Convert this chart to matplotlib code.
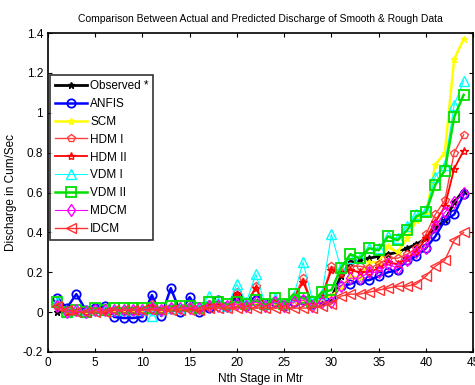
import numpy as np
import matplotlib
matplotlib.use("Agg")
import matplotlib.pyplot as plt

plt.rcParams['font.family'] = ['Liberation Sans Narrow', 'Liberation Sans', 'DejaVu Sans']

stage = np.arange(1, 45)

observed = [0.0, 0.0, 0.01, 0.0, 0.01, 0.01, 0.01, 0.01, 0.01, 0.01, 0.02, 0.01, 0.03, 0.02, 0.02,
            0.02, 0.03, 0.03, 0.03, 0.04, 0.04, 0.05, 0.04, 0.05, 0.05, 0.06, 0.06, 0.05, 0.06, 0.07,
            0.18, 0.25, 0.26, 0.27, 0.28, 0.29, 0.30, 0.32, 0.34, 0.37, 0.42, 0.46, 0.55, 0.61]
anfis = [0.07, 0.02, 0.09, 0.01, 0.02, 0.03, -0.025, -0.03, -0.03, -0.025, 0.085, -0.02, 0.12, 0.0, 0.075,
         0.0, 0.02, 0.06, 0.03, 0.08, 0.03, 0.06, 0.04, 0.05, 0.03, 0.05, 0.06, 0.04, 0.06, 0.07,
         0.13, 0.14, 0.16, 0.16, 0.18, 0.20, 0.21, 0.26, 0.28, 0.32, 0.38, 0.46, 0.49, 0.59]
scm = [0.04, 0.0, 0.01, 0.0, 0.01, 0.01, 0.01, 0.01, 0.01, 0.01, 0.02, 0.01, 0.02, 0.02, 0.02,
       0.02, 0.03, 0.03, 0.03, 0.04, 0.03, 0.04, 0.03, 0.05, 0.04, 0.06, 0.06, 0.04, 0.07, 0.08,
       0.12, 0.18, 0.17, 0.25, 0.25, 0.33, 0.30, 0.37, 0.46, 0.49, 0.74, 0.80, 1.27, 1.37]
hdm1 = [0.04, 0.0, 0.01, 0.0, 0.01, 0.01, 0.01, 0.01, 0.01, 0.01, 0.04, 0.01, 0.02, 0.02, 0.03,
        0.02, 0.04, 0.04, 0.03, 0.10, 0.04, 0.13, 0.03, 0.06, 0.03, 0.07, 0.17, 0.04, 0.08, 0.23,
        0.20, 0.23, 0.23, 0.22, 0.24, 0.27, 0.27, 0.29, 0.32, 0.39, 0.49, 0.56, 0.80, 0.89]
hdm2 = [0.03, 0.0, 0.01, 0.0, 0.01, 0.01, 0.01, 0.01, 0.01, 0.01, 0.03, 0.01, 0.02, 0.02, 0.03,
        0.02, 0.03, 0.04, 0.03, 0.09, 0.04, 0.12, 0.03, 0.06, 0.03, 0.07, 0.15, 0.04, 0.08, 0.21,
        0.19, 0.21, 0.20, 0.20, 0.22, 0.25, 0.24, 0.27, 0.30, 0.37, 0.45, 0.53, 0.72, 0.81]
vdm1 = [0.05, 0.0, 0.01, 0.0, 0.01, 0.01, 0.01, 0.01, 0.01, 0.01, -0.02, 0.01, 0.02, 0.02, 0.03,
        0.02, 0.08, 0.05, 0.03, 0.14, 0.05, 0.19, 0.04, 0.07, 0.04, 0.08, 0.25, 0.06, 0.09, 0.39,
        0.22, 0.27, 0.27, 0.32, 0.32, 0.38, 0.37, 0.43, 0.49, 0.51, 0.68, 0.74, 1.04, 1.16]
vdm2 = [0.05, 0.0, 0.01, 0.0, 0.02, 0.01, 0.02, 0.02, 0.02, 0.02, 0.02, 0.02, 0.03, 0.03, 0.03,
        0.02, 0.05, 0.05, 0.04, 0.05, 0.04, 0.06, 0.04, 0.07, 0.04, 0.09, 0.07, 0.05, 0.10, 0.11,
        0.22, 0.29, 0.27, 0.32, 0.31, 0.38, 0.36, 0.41, 0.48, 0.50, 0.64, 0.71, 0.98, 1.09]
mdcm = [0.03, 0.0, 0.01, 0.0, 0.01, 0.01, 0.01, 0.01, 0.01, 0.01, 0.02, 0.01, 0.02, 0.02, 0.02,
        0.02, 0.03, 0.03, 0.03, 0.04, 0.03, 0.05, 0.03, 0.05, 0.03, 0.05, 0.06, 0.03, 0.05, 0.05,
        0.13, 0.17, 0.17, 0.20, 0.20, 0.24, 0.22, 0.26, 0.30, 0.32, 0.43, 0.50, 0.55, 0.60]
idcm = [0.03, 0.01, 0.0, 0.0, 0.0, 0.0, 0.01, 0.01, 0.01, 0.01, 0.01, 0.01, 0.01, 0.01, 0.01,
        0.01, 0.02, 0.02, 0.02, 0.02, 0.02, 0.02, 0.02, 0.02, 0.02, 0.02, 0.02, 0.02, 0.03, 0.04,
        0.08, 0.09, 0.09, 0.10, 0.11, 0.12, 0.13, 0.13, 0.14, 0.18, 0.23, 0.26, 0.36, 0.40]

fig = plt.figure(figsize=(4.75, 3.85), dpi=100)
ax = fig.add_axes([0.101, 0.086, 0.895, 0.828])

ms = 5
ax.plot(stage, observed, color='k', marker='*', lw=2, ms=ms, label='Observed *')
ax.plot(stage, anfis, color='b', marker='o', lw=1.8, ms=ms + 1, mfc='none', mew=1.3, label='ANFIS')
ax.plot(stage, scm, color='yellow', marker='*', lw=1.8, ms=ms, label='SCM')
ax.plot(stage, hdm1, color='#ff4040', marker='p', lw=1, ms=ms + 1, mfc='none', label='HDM I')
ax.plot(stage, hdm2, color='r', marker='*', lw=1.3, ms=ms + 1, mfc='none', label='HDM II')
ax.plot(stage, vdm1, color='cyan', marker='^', lw=0.8, ms=ms + 2, mfc='none', label='VDM I')
ax.plot(stage, vdm2, color='#00e000', marker='s', lw=1.8, ms=ms + 2, mfc='none', mew=1.3, label='VDM II')
ax.plot(stage, mdcm, color='magenta', marker='d', lw=0.8, ms=ms + 1, mfc='none', label='MDCM')
ax.plot(stage, idcm, color='#ff3030', marker='<', lw=1, ms=ms + 2, mfc='none', label='IDCM')

ax.set_xlim(0, 45)
ax.set_ylim(-0.2, 1.4)
ax.set_xticks(np.arange(0, 46, 5))
ax.set_yticks(np.arange(-0.2, 1.41, 0.2))
ax.set_yticklabels(['-0.2', '0', '0.2', '0.4', '0.6', '0.8', '1', '1.2', '1.4'])
ax.tick_params(direction='in', top=True, right=True, labelsize=8.5, length=3)
for s in ax.spines.values():
    s.set_linewidth(1.2)

ax.set_title('Comparison Between Actual and Predicted Discharge of Smooth & Rough Data', fontsize=7.5, pad=8)
ax.set_xlabel('Nth Stage in Mtr', fontsize=8.5, labelpad=3)
ax.set_ylabel('Discharge in Cum/Sec', fontsize=8.5, labelpad=4)

leg = ax.legend(loc='upper left', bbox_to_anchor=(0.005, 0.868), fontsize=8.5, handlelength=2.7,
                frameon=True, fancybox=False, edgecolor='k', borderpad=0.4, labelspacing=0.5,
                handletextpad=0.3, borderaxespad=0)
leg.get_frame().set_linewidth(1.2)

fig.savefig('out.png', dpi=100)
